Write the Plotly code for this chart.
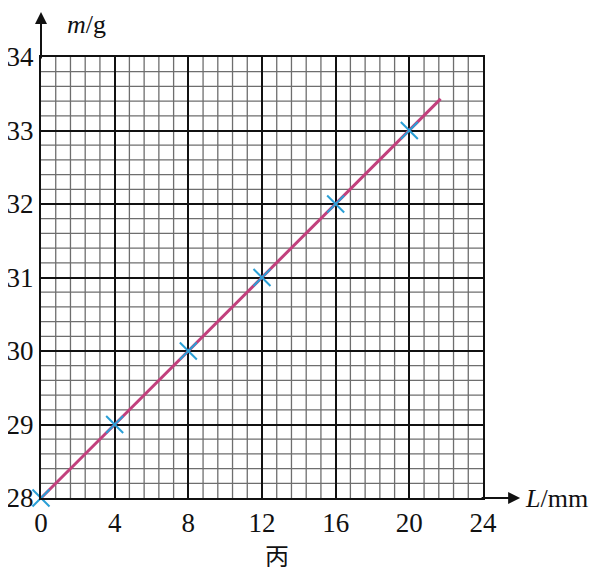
import numpy as np
import plotly.graph_objects as go

# measured points (L in mm, m in g)
L_pts = [0, 4, 8, 12, 16, 20]
m_pts = [28, 29, 30, 31, 32, 33]

# fitted line endpoints
L_line = [0, 21.7]
m_line = [28, 33.43]

x_range = [0, 24]
y_range = [28, 34]
x_major, x_fine = 4, 0.8
y_major, y_fine = 1, 0.2

serif = "Liberation Serif, Times New Roman, serif"
pink = "#c2407d"
blue = "#2a9fd6"
ink = "#111"
fine = "#6e6e6e"

fig = go.Figure()
fig.add_trace(go.Scatter(x=L_line, y=m_line, mode="lines",
                         line=dict(color=pink, width=3), cliponaxis=False))
fig.add_trace(go.Scatter(x=L_pts, y=m_pts, mode="markers",
                         marker=dict(symbol="x-thin", size=17,
                                     line=dict(color=blue, width=2)),
                         cliponaxis=False))

# fine grid (graph paper)
for v in np.arange(x_range[0], x_range[1] + 1e-9, x_fine):
    if abs(v / x_major - round(v / x_major)) < 1e-6:
        continue
    fig.add_shape(type="line", x0=v, x1=v, y0=0, y1=1, xref="x", yref="paper",
                  line=dict(color=fine, width=1.3), layer="below")
for v in np.arange(y_range[0], y_range[1] + 1e-9, y_fine):
    if abs(v / y_major - round(v / y_major)) < 1e-6:
        continue
    fig.add_shape(type="line", y0=v, y1=v, x0=0, x1=1, yref="y", xref="paper",
                  line=dict(color=fine, width=1.3), layer="below")

axis_style = dict(tickmode="linear", ticks="", showgrid=True, gridcolor=ink,
                  gridwidth=2, showline=True, linecolor=ink, linewidth=2,
                  mirror=True, zeroline=False, automargin=False,
                  tickfont=dict(family=serif, size=27, color=ink))
fig.update_xaxes(range=x_range, tick0=0, dtick=x_major, **axis_style)
fig.update_yaxes(range=y_range, tick0=28, dtick=y_major, **axis_style)

# axis arrows
fig.add_annotation(x=0, y=1.102, xref="paper", yref="paper", ax=0, ay=48,
                   text="", showarrow=True, arrowhead=2, arrowsize=1.2,
                   arrowwidth=2, arrowcolor=ink)
fig.add_annotation(x=1.084, y=0, xref="paper", yref="paper", ax=-40, ay=0,
                   text="", showarrow=True, arrowhead=2, arrowsize=1.2,
                   arrowwidth=2, arrowcolor=ink)

# axis titles and caption
fig.add_annotation(x=0.054, y=1.11, xref="paper", yref="paper",
                   text="<i>m</i>/g", showarrow=False, xanchor="left",
                   yanchor="top",
                   font=dict(family=serif, size=26, color=ink))
fig.add_annotation(x=1.09, y=0, xref="paper", yref="paper",
                   text="<i>L</i>/mm", showarrow=False, xanchor="left",
                   yanchor="middle",
                   font=dict(family=serif, size=26, color=ink))
fig.add_annotation(x=0.533, y=-0.127, xref="paper", yref="paper",
                   text="丙", showarrow=False, yanchor="middle",
                   font=dict(family="Noto Sans CJK SC", size=24, color=ink))

# page body adds an 8px offset, margins account for it
fig.update_layout(width=600, height=575, showlegend=False,
                  plot_bgcolor="white", paper_bgcolor="white",
                  margin=dict(l=33, r=125, t=49, b=85, autoexpand=False))

fig.write_html("out.html")
